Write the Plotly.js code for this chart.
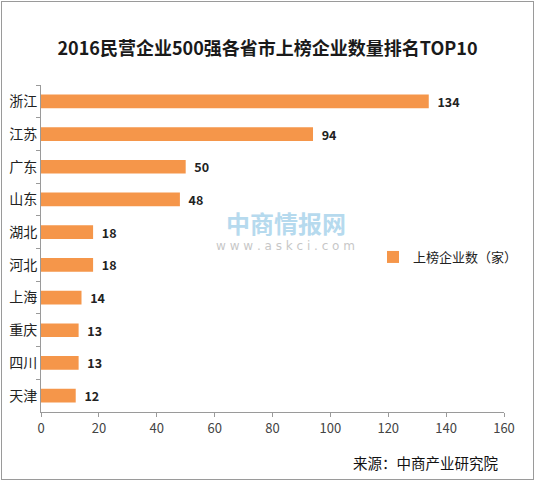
<!DOCTYPE html>
<html>
<head>
<meta charset="utf-8">
<script src="https://cdn.plot.ly/plotly-3.0.1.min.js"></script>
<style>
  html, body { margin: 0; padding: 0; background: #fff; }
  #wrap { position: relative; width: 535px; height: 481px; }
  #chart { width: 535px; height: 481px; }
  #frame { position: absolute; left: 1px; top: 1px; width: 531px; height: 477px; border: 1px solid #9a9a9a; pointer-events: none; }
</style>
</head>
<body>
<div id="wrap"><div id="chart"></div><div id="frame"></div></div>
<script>
const provinces = ["浙江", "江苏", "广东", "山东", "湖北", "河北", "上海", "重庆", "四川", "天津"];
const counts = [134, 94, 50, 48, 18, 18, 14, 13, 13, 12];
const seriesName = "上榜企业数（家）";
const chartTitle = "2016民营企业500强各省市上榜企业数量排名TOP10";
const sourceText = "来源：中商产业研究院";
const xTicks = [0, 20, 40, 60, 80, 100, 120, 140, 160];

const CJK = '"Noto Sans CJK SC", "Noto Sans", sans-serif';
const L = 41, R = 31, T = 85, B = 69;
const PW = 535 - L - R, PH = 481 - T - B;
const px = v => (v - L) / PW;
const py = v => (481 - B - v) / PH;

const trace = {
  type: "bar",
  orientation: "h",
  y: provinces,
  x: counts,
  name: seriesName,
  width: 0.42,
  marker: { color: "#F5964A" },
  texttemplate: "  %{x}",
  textposition: "outside",
  constraintext: "none",
  textfont: { family: CJK, size: 12.5, color: "#222", weight: "bold" },
  cliponaxis: false,
  showlegend: true,
  hoverinfo: "skip"
};

const layout = {
  width: 535,
  height: 481,
  margin: { l: L, r: R, t: T, b: B },
  paper_bgcolor: "#fff",
  plot_bgcolor: "#fff",
  font: { family: CJK, color: "#222" },
  title: {
    text: "<b>" + chartTitle + "</b>",
    font: { family: CJK, size: 18, color: "#1a1a1a" },
    x: 0.5, xanchor: "center",
    y: 1 - 49 / 481, yref: "container", yanchor: "middle"
  },
  xaxis: {
    range: [0, 160],
    tickvals: xTicks,
    ticktext: xTicks.map(String),
    showgrid: false,
    zeroline: false,
    showline: true,
    linecolor: "#9a9a9a",
    linewidth: 1,
    ticks: "outside",
    ticklen: 4,
    tickcolor: "#9a9a9a",
    tickfont: { family: CJK, size: 13, color: "#444" },
    automargin: false,
    fixedrange: true
  },
  yaxis: {
    type: "category",
    autorange: "reversed",
    showgrid: false,
    zeroline: false,
    showline: true,
    linecolor: "#9a9a9a",
    linewidth: 1,
    ticks: "outside",
    tickson: "boundaries",
    ticklen: 4,
    tickcolor: "#9a9a9a",
    tickfont: { family: CJK, size: 14, color: "#222" },
    automargin: false,
    fixedrange: true
  },
  showlegend: true,
  legend: {
    x: px(373),
    xanchor: "left",
    y: py(257),
    yanchor: "middle",
    bgcolor: "rgba(0,0,0,0)",
    font: { family: CJK, size: 13, color: "#222" },
    itemwidth: 30
  },
  annotations: [
    {
      text: "中商情报网",
      xref: "paper", yref: "paper",
      x: px(286), y: py(222),
      xanchor: "center", yanchor: "middle",
      showarrow: false,
      font: { family: CJK, size: 24, color: "#6fb6de", weight: "bold" },
      opacity: 0.5
    },
    {
      text: "w w w . a s k c i . c o m",
      xref: "paper", yref: "paper",
      x: px(285), y: py(246),
      xanchor: "center", yanchor: "middle",
      showarrow: false,
      font: { family: "DejaVu Sans, sans-serif", size: 12, color: "#9a9a9a" },
      opacity: 0.55
    },
    {
      text: sourceText,
      xref: "paper", yref: "paper",
      x: px(500), y: py(462),
      xanchor: "right", yanchor: "middle",
      showarrow: false,
      font: { family: CJK, size: 14.5, color: "#111" }
    }
  ]
};

Plotly.newPlot("chart", [trace], layout, { displayModeBar: false, staticPlot: true });
</script>
</body>
</html>
